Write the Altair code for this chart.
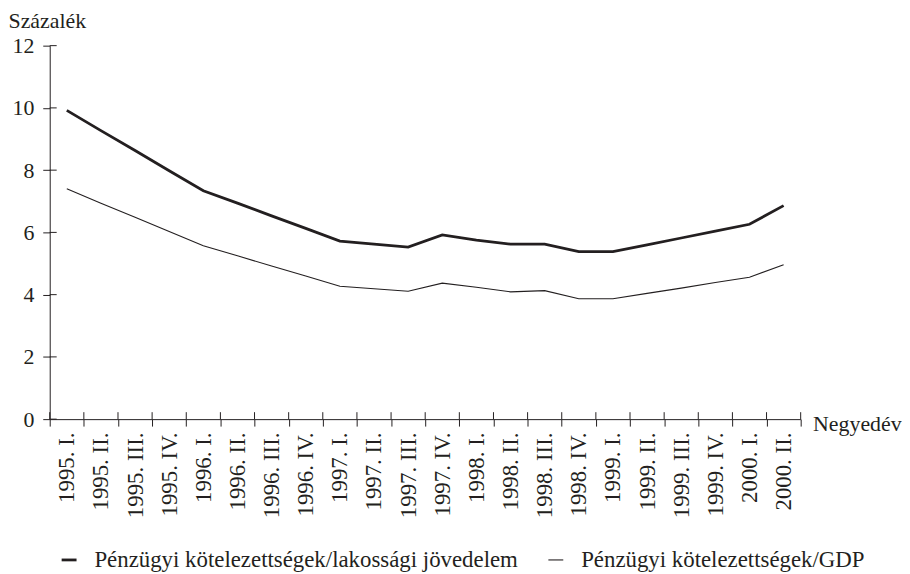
import altair as alt
import pandas as pd

quarters = [
    "1995. I.", "1995. II.", "1995. III.", "1995. IV.",
    "1996. I.", "1996. II.", "1996. III.", "1996. IV.",
    "1997. I.", "1997. II.", "1997. III.", "1997. IV.",
    "1998. I.", "1998. II.", "1998. III.", "1998. IV.",
    "1999. I.", "1999. II.", "1999. III.", "1999. IV.",
    "2000. I.", "2000. II.",
]
income_ratio = [9.92, 9.27, 8.63, 7.98, 7.34, 6.94, 6.53, 6.13, 5.72, 5.62, 5.53, 5.92,
                5.75, 5.62, 5.62, 5.38, 5.38, 5.60, 5.82, 6.04, 6.26, 6.86]
gdp_ratio = [7.40, 6.94, 6.49, 6.03, 5.57, 5.25, 4.92, 4.60, 4.27, 4.19, 4.11, 4.37,
             4.24, 4.09, 4.13, 3.87, 3.87, 4.04, 4.21, 4.39, 4.56, 4.96]
series_names = ["Pénzügyi kötelezettségek/lakossági jövedelem", "Pénzügyi kötelezettségek/GDP"]
y_ticks = [0, 2, 4, 6, 8, 10, 12]

rows = []
for name, vals in zip(series_names, [income_ratio, gdp_ratio]):
    for q, v in zip(quarters, vals):
        rows.append({"q": q, "value": v, "series": name})
df = pd.DataFrame(rows)

FONT = "Liberation Serif"
INK = "#231f20"
W, H = 756, 376
FS = 22

xscale = alt.Scale(type="band", domain=quarters, paddingInner=0, paddingOuter=0)
yscale = alt.Scale(domain=[0, 12], nice=False, zero=True)

xaxis = alt.Axis(title="Negyedév", titleAngle=0, titleX=W + 12, titleY=4,
                 titleAlign="left", titleBaseline="middle",
                 labelAngle=270, tickBand="extent", tickSize=7, labelPadding=6,
                 labelFontSize=23)
yaxis = alt.Axis(values=y_ticks, title="Százalék", titleAngle=0,
                 titleX=-42, titleY=-25, titleAlign="left",
                 titleBaseline="middle", tickSize=7, labelPadding=9, grid=False)

lines = alt.Chart(df).mark_line(color=INK, strokeJoin="miter").encode(
    x=alt.X("q:N", scale=xscale, bandPosition=0.5, sort=quarters, axis=xaxis),
    y=alt.Y("value:Q", scale=yscale, axis=yaxis),
    strokeWidth=alt.StrokeWidth(
        "series:N",
        scale=alt.Scale(domain=series_names, range=[2.8, 1.1]),
        legend=alt.Legend(orient="none", legendX=8, legendY=506, direction="horizontal",
                          title=None, symbolType="stroke", symbolStrokeColor=INK,
                          symbolSize=225, labelOffset=14, columnPadding=26,
                          labelFontSize=23),
    ),
    detail="series:N",
)

ytick_df = pd.DataFrame({"value": y_ticks})
ytick_in = alt.Chart(ytick_df).mark_rule(color=INK, strokeWidth=1).encode(
    y=alt.Y("value:Q", scale=yscale, axis=yaxis),
    x=alt.value(0),
    x2=alt.value(7),
)

xtick_df = pd.DataFrame({"q": quarters})
xtick_in = alt.Chart(xtick_df).mark_rule(color=INK, strokeWidth=1).encode(
    x=alt.X("q:N", scale=xscale, bandPosition=0, sort=quarters, axis=xaxis),
    y=alt.value(H - 7),
    y2=alt.value(H),
)
xtick_last = alt.Chart(pd.DataFrame({"q": [quarters[-1]]})).mark_rule(color=INK, strokeWidth=1).encode(
    x=alt.X("q:N", scale=xscale, bandPosition=1, sort=quarters, axis=xaxis),
    y=alt.value(H - 7),
    y2=alt.value(H),
)

chart = alt.layer(lines, ytick_in, xtick_in, xtick_last).properties(
    width=W, height=H, padding={"left": 0, "top": 0, "right": 0, "bottom": 0}
).configure_view(stroke=None).configure_axis(
    labelFont=FONT, titleFont=FONT, labelFontSize=FS, titleFontSize=FS,
    labelColor=INK, titleColor=INK, domainColor=INK, tickColor=INK,
    titleFontWeight="normal", domainWidth=1, tickWidth=1,
).configure_legend(
    labelFont=FONT, labelFontSize=FS, labelColor=INK, labelLimit=0,
)

chart.save("out.html", embed_options={"renderer": "svg", "actions": False})
